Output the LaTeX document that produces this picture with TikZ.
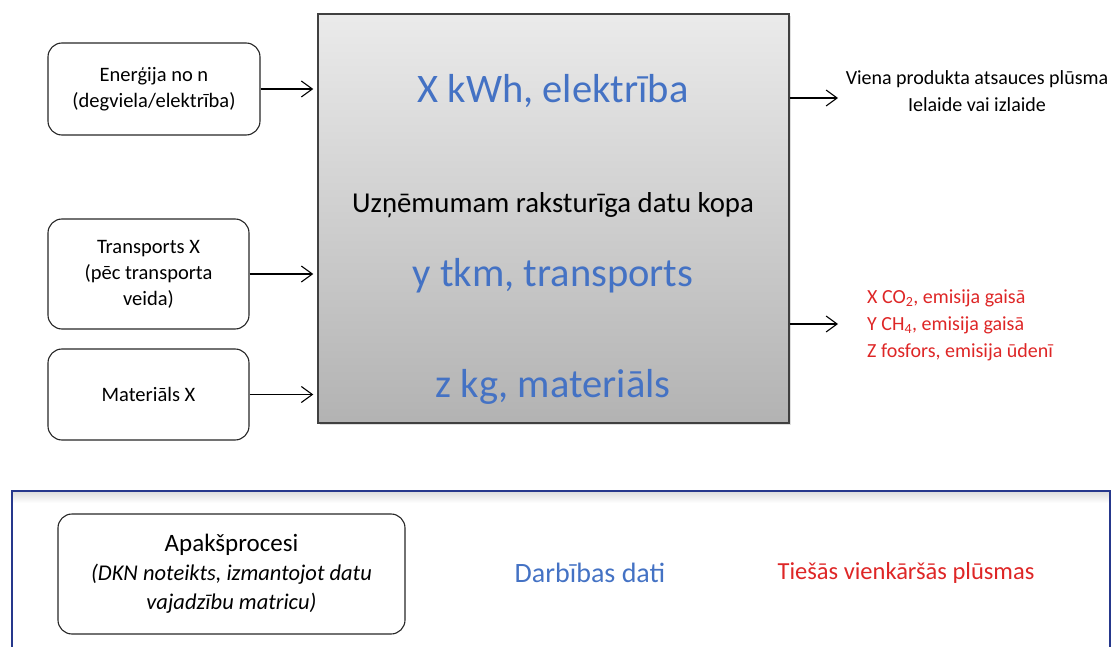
\documentclass[tikz,border=0pt]{standalone}
\usepackage{fontspec}
\setmainfont{Carlito}
\usetikzlibrary{arrows.meta,shadows}

\definecolor{dataBlue}{RGB}{68,114,196}
\definecolor{flowRed}{RGB}{222,38,38}
\definecolor{frameNavy}{RGB}{38,56,140}

\tikzset{
	inbox/.style={draw=black!85, line width=1.1pt, rounded corners=14pt, align=center, inner sep=0pt, font=\fontsize{20.5}{26}\selectfont},
	flow/.style={line width=1.1pt, -{Straight Barb[length=11pt,width=16pt,line width=1.1pt]}},
	bigtxt/.style={anchor=base, text=dataBlue, inner sep=0pt, font=\fontsize{40.5}{48}\selectfont},
}

\begin{document}
\begin{tikzpicture}[x=1pt,y=-1pt]
				\useasboundingbox (0,0) rectangle (1114,647);
				
				%Main rect
				\node (datu) [draw=black!75, line width=1.5pt, top color=black!8, bottom color=black!30, minimum width=471pt, minimum height=409pt, inner sep=0pt, drop shadow={shadow xshift=2pt, shadow yshift=-2pt, opacity=0.25}] at (553.5,218.5) {};
				
				%Rounded Rect
				\node (energ) [inbox, minimum width=212pt, minimum height=92pt] at (154,89) {Enerģija no n\\(degviela/elektrība)};
				%Rounded Rect
				\node (transp) [inbox, minimum width=201pt, minimum height=110pt] at (148.5,274) {Transports X\\(pēc transporta\\veida)};
				%Rounded Rect
				\node (mater) [inbox, minimum width=201pt, minimum height=91pt] at (148.5,394.5) {Materiāls X};
				
				% Text Node
				\node (kwh) [bigtxt] at (553,103) {X kWh, elektrība};
				% Text Node
				\node (kopa) [anchor=base, inner sep=0pt, font=\fontsize{28.8}{34}\selectfont] at (553,213) {Uzņēmumam raksturīga datu kopa};
				% Text Node
				\node (tkm) [bigtxt] at (553,287) {y tkm, transports};
				% Text Node
				\node (kg) [bigtxt] at (553,397) {z kg, materiāls};
				
				% Text Node
				\node (plusma) [align=center, inner sep=0pt, font=\fontsize{20}{27}\selectfont] at (977,91) {Viena produkta atsauces plūsma\\Ielaide vai izlaide};
				% Text Node
				\node (emis) [anchor=west, align=left, inner sep=0pt, text=flowRed, font=\fontsize{20}{27}\selectfont] at (867,325) {X CO\textsubscript{2}, emisija gaisā\\Y CH\textsubscript{4}, emisija gaisā\\Z fosfors, emisija ūdenī};
				
				\coordinate (out1) at (838,98);
				\coordinate (out2) at (838,324);
				
				%Straight Lines
				\draw [flow, shorten >=4pt] (energ.east) -- (energ.east -| datu.west);
				\draw [flow, shorten >=4pt] (transp.east) -- (transp.east -| datu.west);
				\draw [flow, shorten >=4pt] (mater.east) -- (mater.east -| datu.west);
				\draw [flow] (datu.east |- out1) -- (out1);
				\draw [flow] (datu.east |- out2) -- (out2);
				
				%Legend frame
				\shade [top color=black!13, bottom color=white] (13,492) rectangle (1109,503);
				\draw [frameNavy, line width=1.3pt] (12,660) -- (12,491) -- (1110,491) -- (1110,660);
				
				%Rounded Rect
				\node (apaks) [inbox, minimum width=347pt, minimum height=120pt, font=\fontsize{22.5}{29}\selectfont] at (231.5,574) {{\fontsize{25}{29}\selectfont Apakšprocesi}\\\textit{(DKN noteikts, izmantojot datu}\\\textit{vajadzību matricu)}};
				% Text Node
				\node (darb) [anchor=base, inner sep=0pt, text=dataBlue, font=\fontsize{28}{32}\selectfont] at (590,582) {Darbības dati};
				% Text Node
				\node (tiesas) [anchor=base, inner sep=0pt, text=flowRed, font=\fontsize{24.5}{29}\selectfont] at (906,579) {Tiešās vienkāršās plūsmas};
				
\end{tikzpicture}
\end{document}
